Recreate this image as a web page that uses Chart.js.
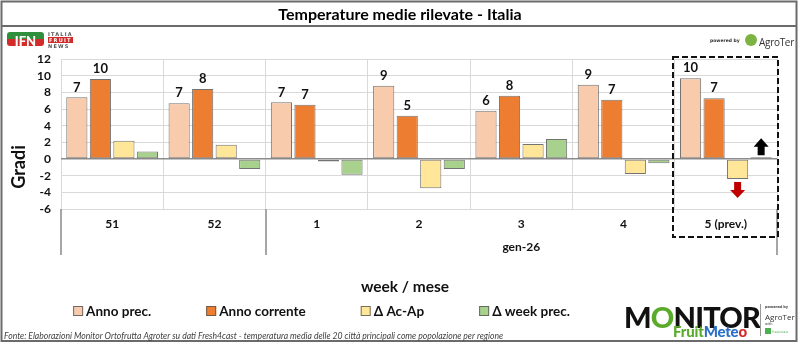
<!DOCTYPE html>
<html><head><meta charset="utf-8">
<script src="https://cdn.jsdelivr.net/npm/chart.js@4.4.1/dist/chart.umd.min.js"></script>
<style>
html,body{margin:0;padding:0;background:#fff;}
#wrap{position:relative;width:800px;height:344px;overflow:hidden;font-family:Lato,'Open Sans',sans-serif;}
canvas{position:absolute;left:0;top:0;}
.abs{position:absolute;white-space:nowrap;line-height:1;}
</style></head><body>
<div id="wrap">
<canvas id="c" width="800" height="344"></canvas>
<!-- IFN logo -->
<div class="abs" style="left:7px;top:32px;width:37px;height:14px;border-radius:3px;background:linear-gradient(to bottom,#2f8f3d 0,#2f8f3d 50%,#d32a2a 50%,#d32a2a 100%);"></div>
<div class="abs" style="left:7px;top:32.5px;width:37px;text-align:center;font:900 13px Lato,sans-serif;color:#fff;letter-spacing:0px;">IFN</div>
<div class="abs" style="left:48px;top:31px;font:bold 5px 'DejaVu Sans',sans-serif;color:#555;letter-spacing:1.2px;">ITALIA</div>
<div class="abs" style="left:48px;top:37px;font:bold 5px 'DejaVu Sans',sans-serif;color:#fff;background:#d32a2a;letter-spacing:1.2px;padding:0 1px;">FRUIT</div>
<div class="abs" style="left:48px;top:43px;font:bold 5px 'DejaVu Sans',sans-serif;color:#555;letter-spacing:1.2px;">NEWS</div>
<!-- AgroTer top right -->
<div class="abs" style="left:710px;top:38px;font:bold 4.5px 'DejaVu Sans',sans-serif;color:#333;">powered by</div>
<div class="abs" style="left:745px;top:34px;width:12px;height:12px;border-radius:50%;background:#7cb342;"></div>
<div class="abs" style="left:759px;top:35px;font:10px 'Open Sans',sans-serif;color:#333;letter-spacing:-0.3px;">AgroTer</div>
<!-- Monitor logo -->
<div class="abs" style="left:624px;top:299px;font:900 29px Lato,sans-serif;color:#111;letter-spacing:-0.8px;">M<span style="color:#5aab2c">O</span>NITOR</div>
<div class="abs" style="left:673px;top:322px;font:900 15px Lato,sans-serif;letter-spacing:-0.2px;"><span style="color:#5aab2c">Fruit</span><span style="color:#2b6fc8">Mete</span><span style="color:#d32a2a">o</span></div>
<div class="abs" style="left:760px;top:304px;width:1px;height:32px;background:#999;"></div>
<div class="abs" style="left:765px;top:305px;font:bold 3.5px 'DejaVu Sans',sans-serif;color:#444;">powered by</div>
<div class="abs" style="left:765px;top:311px;font:8px 'Open Sans',sans-serif;color:#333;">AgroTer</div>
<div class="abs" style="left:765px;top:322px;font:3.5px 'DejaVu Sans',sans-serif;color:#444;">with</div>
<div class="abs" style="left:765px;top:328px;width:6px;height:6px;background:#4caf50;"></div>
<div class="abs" style="left:772px;top:330px;font:3px 'DejaVu Sans',sans-serif;color:#4caf50;">Fresh4cast</div>
</div>
<script>
// ---- data ----
const weeks = ['51', '52', '1', '2', '3', '4', '5 (prev.)'];
const months = ['', '', 'gen-26', 'gen-26', 'gen-26', 'gen-26', 'gen-26'];
const seriesNames = ['Anno prec.', 'Anno corrente', '\u0394 Ac-Ap', '\u0394 week prec.'];
const annoPrec = [7.4, 6.7, 6.8, 8.8, 5.8, 8.9, 9.7];
const annoCorrente = [9.6, 8.4, 6.5, 5.2, 7.6, 7.1, 7.3];
const deltaAcAp = [2.2, 1.7, -0.3, -3.5, 1.8, -1.8, -2.4];
const deltaWeek = [0.9, -1.2, -1.9, -1.2, 2.4, -0.5, 0.2];
const yTicks = [-6, -4, -2, 0, 2, 4, 6, 8, 10, 12];
const chartTitle = 'Temperature medie rilevate - Italia';
const yTitle = 'Gradi';
const xTitle = 'week / mese';
const footer = 'Fonte: Elaborazioni Monitor Ortofrutta Agroter su dati Fresh4cast - temperatura media delle 20 citt\u00e0 principali come popolazione per regione';

const FONT = 'Lato, "Open Sans", sans-serif';
const colors = ['#F8CBAD', '#ED7D31', '#FFE699', '#A9D18E'];
const border = 'rgba(80,80,80,0.8)';

function arrow(ctx, x, y0, y1, color) { // y0 = tail, y1 = tip
  const dir = y1 > y0 ? 1 : -1;
  const len = Math.abs(y1 - y0), head = len * 0.5;
  ctx.save(); ctx.fillStyle = color; ctx.beginPath();
  ctx.moveTo(x - 3.5, y0); ctx.lineTo(x + 3.5, y0);
  ctx.lineTo(x + 3.5, y1 - dir * head); ctx.lineTo(x + 7.5, y1 - dir * head);
  ctx.lineTo(x, y1); ctx.lineTo(x - 7.5, y1 - dir * head); ctx.lineTo(x - 3.5, y1 - dir * head);
  ctx.closePath(); ctx.fill(); ctx.restore();
}

const deco = {
  id: 'deco',
  beforeDraw(chart) {
    const ctx = chart.ctx;
    ctx.save();
    ctx.fillStyle = '#fff'; ctx.fillRect(0, 0, 800, 344);
    ctx.strokeStyle = '#6b6b6b'; ctx.lineWidth = 2;
    ctx.strokeRect(1.5, 1.5, 795, 339.5);
    ctx.beginPath(); ctx.moveTo(1, 26); ctx.lineTo(797, 26); ctx.stroke();
    ctx.fillStyle = '#000'; ctx.font = 'bold 16px ' + FONT;
    ctx.textAlign = 'center'; ctx.textBaseline = 'middle';
    ctx.fillText(chartTitle, 400, 15);
    ctx.restore();
  },
  afterDraw(chart) {
    const ctx = chart.ctx, ca = chart.chartArea;
    const n = weeks.length, cw = (ca.right - ca.left) / n;
    ctx.save();
    // value labels
    ctx.fillStyle = '#111'; ctx.font = 'bold 13px ' + FONT;
    ctx.textAlign = 'center'; ctx.textBaseline = 'middle';
    [0, 1].forEach(di => {
      chart.getDatasetMeta(di).data.forEach((bar, i) => {
        ctx.fillText(String(Math.round(chart.data.datasets[di].data[i])), bar.x, bar.y - 10);
      });
    });
    // group separators under the axis
    ctx.strokeStyle = '#a6a6a6'; ctx.lineWidth = 2;
    const sepTop = ca.bottom, sepBot = ca.bottom + 46;
    const bounds = [0];
    for (let i = 1; i < n; i++) if (months[i] !== months[i - 1]) bounds.push(i);
    bounds.push(n);
    bounds.forEach(b => {
      const px = Math.round(ca.left + b * cw);
      ctx.beginPath(); ctx.moveTo(px, sepTop); ctx.lineTo(px, sepBot); ctx.stroke();
    });
    ctx.fillStyle = '#111'; ctx.font = 'bold 12px ' + FONT;
    for (let k = 0; k < bounds.length - 1; k++) {
      const lab = months[bounds[k]];
      if (!lab) continue;
      const cx = ca.left + (bounds[k] + bounds[k + 1]) / 2 * cw;
      ctx.fillText(lab, cx, ca.bottom + 38);
    }
    // y title
    ctx.save(); ctx.translate(19, 167); ctx.rotate(-Math.PI / 2);
    ctx.font = 'bold 18px ' + FONT; ctx.fillStyle = '#111';
    ctx.fillText(yTitle, 0, 0); ctx.restore();
    // x title
    ctx.font = 'bold 15.5px ' + FONT; ctx.fillStyle = '#111';
    ctx.fillText(xTitle, 405, 287);
    // legend
    ctx.font = 'bold 13.5px ' + FONT;
    const gapBoxText = 13, gapItems = 55, box = 10;
    const widths = seriesNames.map(s => ctx.measureText(s).width);
    const total = widths.reduce((a, w) => a + gapBoxText + w, 0) + gapItems * (seriesNames.length - 1);
    let lx = 321.5 - total / 2;
    ctx.textAlign = 'left';
    seriesNames.forEach((s, i) => {
      ctx.fillStyle = colors[i]; ctx.fillRect(lx, 306, box, box);
      ctx.strokeStyle = 'rgba(80,80,80,0.8)'; ctx.lineWidth = 1; ctx.strokeRect(lx + 0.5, 306.5, box - 1, box - 1);
      ctx.fillStyle = '#111'; ctx.fillText(s, lx + gapBoxText, 311.5);
      lx += gapBoxText + widths[i] + gapItems;
    });
    // footer
    ctx.font = 'italic 8.6px ' + FONT; ctx.fillStyle = '#404040';
    ctx.fillText(footer, 4, 336);
    // dashed box around last category
    const lastLeft = Math.round(ca.left + (n - 1) * cw) - 2;
    ctx.setLineDash([6, 3]); ctx.strokeStyle = '#111'; ctx.lineWidth = 2;
    ctx.strokeRect(lastLeft, ca.top - 2, ca.right + 1 - lastLeft, 237 - (ca.top - 2));
    ctx.setLineDash([]);
    // arrows
    const b2 = chart.getDatasetMeta(2).data[n - 1];
    const b3 = chart.getDatasetMeta(3).data[n - 1];
    const low = Math.max(b2.base, b2.y);
    arrow(ctx, b2.x, low + 3, low + 19, '#C00000');
    const high = Math.min(b3.y, b3.base);
    arrow(ctx, b3.x, high - 2, high - 19, '#000');
    ctx.restore();
  }
};

const datasets = [annoPrec, annoCorrente, deltaAcAp, deltaWeek].map((d, i) => ({
  label: seriesNames[i], data: d, backgroundColor: colors[i], borderColor: border,
  borderWidth: 1, borderSkipped: false, categoryPercentage: 0.92, barPercentage: 0.9
}));

new Chart(document.getElementById('c'), {
  type: 'bar',
  data: { labels: weeks, datasets },
  options: {
    responsive: false, animation: false, devicePixelRatio: 1,
    layout: { padding: { left: 8, right: 23, top: 59, bottom: 89 } },
    plugins: { legend: { display: false }, tooltip: { enabled: false }, title: { display: false } },
    scales: {
      x: {
        grid: { color: '#d9d9d9', drawTicks: false, lineWidth: 1 },
        border: { display: false },
        ticks: { font: { family: FONT, weight: 'bold', size: 12 }, color: '#111', padding: 8, maxRotation: 0, autoSkip: false },
        afterFit: s => { s.height = 46; }
      },
      y: {
        min: -6, max: 12,
        afterBuildTicks: s => { s.ticks = yTicks.map(v => ({ value: v })); },
        ticks: { font: { family: FONT, weight: 'bold', size: 12 }, color: '#111', padding: 10, autoSkip: false },
        grid: { color: c => c.tick && c.tick.value === 0 ? '#8c8c8c' : '#d9d9d9', lineWidth: c => c.tick && c.tick.value === 0 ? 1.5 : 1, drawTicks: false },
        border: { display: false },
        afterFit: s => { s.width = 53; }
      }
    }
  },
  plugins: [deco]
});
</script>
</body></html>
